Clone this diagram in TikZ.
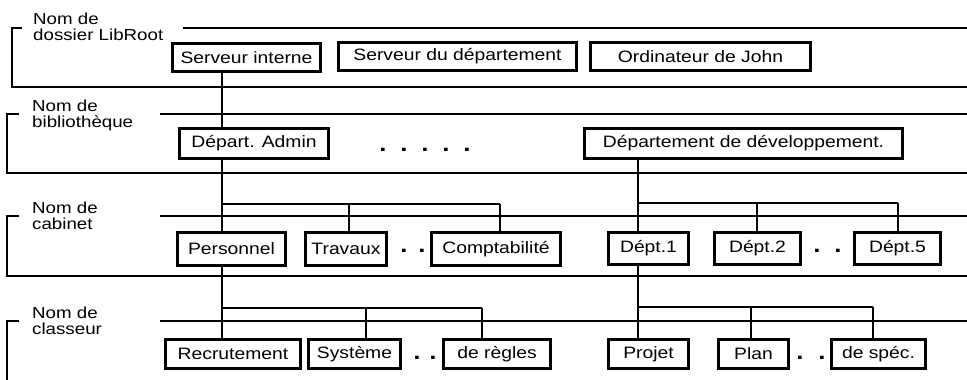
\documentclass[tikz,border=0pt]{standalone}
\usepackage{fontspec}
\setmainfont{Liberation Sans}[FakeStretch=1.17]
\usepackage{tikz}
\usetikzlibrary{positioning,calc}

\begin{document}
\begin{tikzpicture}[
    x=1pt, y=-1pt,
    item/.style={draw, line width=2.6pt, inner sep=2pt, font=\fontsize{16.5}{18}\selectfont},
    level/.style={anchor=north west, align=left, inner sep=0, font=\fontsize{16}{15.5}\selectfont},
    band/.style={line width=1.1pt},
    link/.style={line width=1.1pt},
    dot/.style={inner sep=0, font=\fontsize{22}{22}\selectfont\bfseries}
]
    \useasboundingbox (0,0) rectangle (967,380);

    % Level labels
    \node[level] (lvroot) at (33, 13) {Nom de\\dossier LibRoot};
    \node[level] (lvlib)  at (32, 100) {Nom de\\biblioth\`eque};
    \node[level] (lvcab)  at (32, 202) {Nom de\\cabinet};
    \node[level] (lvcls)  at (32, 307) {Nom de\\classeur};

    % Level bands
    \draw[band] (22,28) -- (12,28) -- (12,87) -- (967,87);
    \draw[band] (183,28) -- (967,28);
    \draw[band] (19,114) -- (7,114) -- (7,173) -- (967,173);
    \draw[band] (160,114) -- (967,114);
    \draw[band] (19,216) -- (7,216) -- (7,276) -- (967,276);
    \draw[band] (160,216) -- (967,216);
    \draw[band] (19,321) -- (7,321) -- (7,380);
    \draw[band] (160,321) -- (967,321);

    % LibRoot folders
    \node[item, minimum width=148.5, minimum height=28.5] (srvint)  at (246.5, 57.5) {Serveur interne};
    \node[item, minimum width=238.5, minimum height=28.5] (srvdept) at (457.5, 56.5) {Serveur du d\'epartement};
    \node[item, minimum width=220.5, minimum height=28.5] (pcjohn)  at (700.5, 56.5) {Ordinateur de John};

    % Libraries
    \node[item, minimum width=149.5, minimum height=30.5] (admin)   at (254, 143.5) {D\'epart. Admin};
    \node[item, minimum width=318.5, minimum height=30.5] (devdept) at (743.5, 143.5) {D\'epartement de d\'eveloppement.};
    \foreach \dx [count=\i] in {383,404,425,446,467}
        \node[dot] (dotlib\i) at (\dx, 150) {.};

    % Cabinets
    \node[item, minimum width=108.5, minimum height=33.5] (perso)   at (231.5, 249) {Personnel};
    \node[item, minimum width=81.5,  minimum height=33.5] (travaux) at (346, 249) {Travaux};
    \node[item, minimum width=129.5, minimum height=33.5] (compta)  at (496, 249) {Comptabilit\'e};
    \node[item, minimum width=80.5,  minimum height=32.5] (dept1)   at (648.5, 248.5) {D\'ept.1};
    \node[item, minimum width=86.5,  minimum height=32.5] (dept2)   at (757.5, 248.5) {D\'ept.2};
    \node[item, minimum width=86.5,  minimum height=32.5] (dept5)   at (897.5, 248.5) {D\'ept.5};
    \foreach \dx [count=\i] in {404,422,817,838}
        \node[dot] (dotcab\i) at (\dx, 251) {.};

    % Binders
    \node[item, minimum width=135.5, minimum height=29.5] (recrut)  at (233, 354) {Recrutement};
    \node[item, minimum width=92.5,  minimum height=29.5] (systeme) at (354.5, 354) {Syst\`eme};
    \node[item, minimum width=107.5, minimum height=29.5] (regles)  at (497, 354) {de r\`egles};
    \node[item, minimum width=80.5,  minimum height=29.5] (projet)  at (648.5, 354) {Projet};
    \node[item, minimum width=70.5,  minimum height=29.5] (plan)    at (753.5, 354) {Plan};
    \node[item, minimum width=94.5,  minimum height=29.5] (spec)    at (878.5, 354) {de sp\'ec.};
    \foreach \dx [count=\i] in {417,433,800,822}
        \node[dot] (dotcls\i) at (\dx, 358) {.};

    % Trunks
    \coordinate (trunkL) at (222, 0);
    \coordinate (trunkR) at (638, 0);
    \draw[link] (srvint.south -| trunkL) -- (admin.north -| trunkL);
    \draw[link] (admin.south -| trunkL) -- (perso.north -| trunkL);
    \draw[link] (perso.south -| trunkL) -- (recrut.north -| trunkL);
    \draw[link] (devdept.south -| trunkR) -- (dept1.north -| trunkR);
    \draw[link] (dept1.south -| trunkR) -- (projet.north -| trunkR);

    % Branches
    \draw[link] (trunkL |- 0,204) -- (500,204);
    \foreach \nm/\bx in {travaux/349, compta/500}
        \draw[link] (\bx,204) -- (\nm.north -| \bx,0);
    \draw[link] (trunkR |- 0,203) -- (898,203);
    \foreach \nm/\bx in {dept2/757, dept5/898}
        \draw[link] (\bx,203) -- (\nm.north -| \bx,0);
    \draw[link] (trunkL |- 0,308) -- (482,308);
    \foreach \nm/\bx in {systeme/366, regles/482}
        \draw[link] (\bx,308) -- (\nm.north -| \bx,0);
    \draw[link] (trunkR |- 0,307) -- (873,307);
    \foreach \nm/\bx in {plan/751, spec/873}
        \draw[link] (\bx,307) -- (\nm.north -| \bx,0);
\end{tikzpicture}
\end{document}
